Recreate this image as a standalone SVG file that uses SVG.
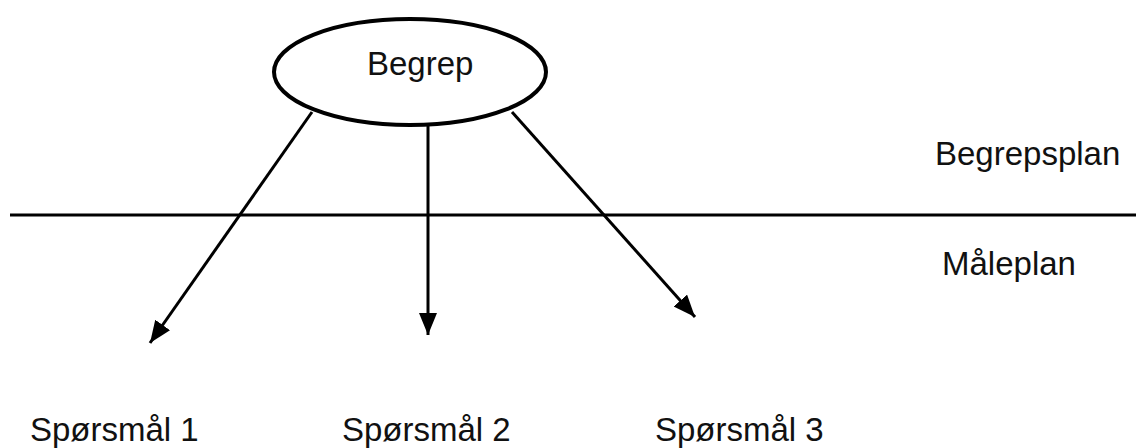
<svg xmlns="http://www.w3.org/2000/svg" width="1136" height="448" viewBox="0 0 1136 448">
<style>
text{font-family:"Liberation Sans",Arial,sans-serif;font-size:33px;fill:#111}
.ln{stroke:#000;stroke-width:3;fill:none}
</style>
<defs>
<marker id="ah" markerUnits="userSpaceOnUse" markerWidth="24" markerHeight="20" refX="22" refY="9" orient="auto">
<path d="M0,0 L22,9 L0,18 z" fill="#000"/>
</marker>
</defs>
<rect width="1136" height="448" fill="#fff"/>
<line x1="10" y1="215" x2="1136" y2="215" stroke="#000" stroke-width="3"/>
<g id="connectors">
<line class="ln" x1="312" y1="112" x2="150" y2="343" marker-end="url(#ah)"/>
<line class="ln" x1="428" y1="118" x2="428" y2="335" marker-end="url(#ah)"/>
<line class="ln" x1="512" y1="112" x2="695" y2="317" marker-end="url(#ah)"/>
</g>
<g id="begrep">
<ellipse cx="410" cy="72" rx="136" ry="53" fill="#fff" stroke="#000" stroke-width="4"/>
<text x="367" y="75">Begrep</text>
</g>
<g id="begrepsplan"><text x="935" y="165">Begrepsplan</text></g>
<g id="maleplan"><text x="942" y="275">Måleplan</text></g>
<g id="sp1"><text x="30" y="441">Spørsmål 1</text></g>
<g id="sp2"><text x="342" y="441">Spørsmål 2</text></g>
<g id="sp3"><text x="655" y="441">Spørsmål 3</text></g>
</svg>
